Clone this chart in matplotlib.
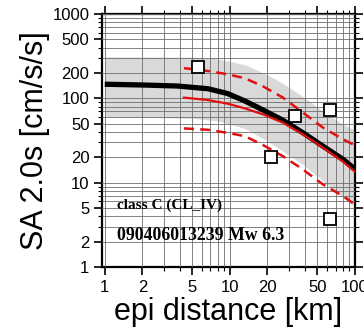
import numpy as np
import matplotlib
matplotlib.use("Agg")
import matplotlib.pyplot as plt
from matplotlib.ticker import LogLocator, FixedLocator, NullFormatter

plt.rcParams["font.family"] = ["Liberation Sans", "DejaVu Sans"]

# median prediction (black) and its scatter band [cm/s/s] vs distance [km]
dist_mean = [1, 2, 3.8, 6.7, 9.6, 13.2, 16.8, 26.6, 38.5, 55.8, 80.9, 100]
sa_mean = [147, 144, 140, 130, 114, 93, 78, 55, 39, 27, 18.8, 14.5]

dist_band = [1, 5, 8, 13.2, 20, 26.6, 38.5, 55.8, 80.9, 100]
band_upper = [310, 308, 295, 250, 190, 150, 105, 70, 49, 42]
band_lower = [61, 58, 54, 44, 31, 23.5, 16.4, 10.4, 6.6, 5.3]

# site-class prediction (red) with +/- sigma, from 4.3 km on
dist_site = [4.3, 6.7, 9.6, 13.2, 18.4, 26.6, 38.5, 55.8, 80.9, 100]
sa_site = [102, 95.5, 86.5, 76, 64.6, 51.4, 37.3, 25.9, 17.6, 13.5]
sa_site_up = [228, 211, 193, 173, 139, 102, 67.6, 44.8, 32.5, 27.8]
sa_site_lo = [44, 42.4, 39, 35.6, 28, 20.6, 14.3, 9.5, 6.9, 5.5]

# observed records
obs_dist = [5.6, 21.5, 33.4, 63.4, 63.4]
obs_sa = [234, 20.4, 61, 72, 3.7]

xticks = [1, 2, 5, 10, 20, 50, 100]
yticks = [1, 2, 5, 10, 20, 50, 100, 200, 500, 1000]

fig = plt.figure(figsize=(3.64, 3.33), dpi=100)
ax = fig.add_axes([0.280, 0.198, 0.695, 0.760])
ax.set_xscale("log")
ax.set_yscale("log")
ax.set_xlim(0.95, 100)
ax.set_ylim(1, 1000)

ax.fill_between(dist_band, band_lower, band_upper, color="#d9d9d9", lw=0, zorder=1)

ax.grid(True, which="both", color="#6e6e6e", lw=0.6, zorder=2)
ax.set_axisbelow(False)

red = "#e01010"
ax.plot(dist_mean, sa_mean, color="black", lw=3.8, solid_capstyle="butt", zorder=3)
ax.plot(dist_site, sa_site, color=red, lw=1.6, zorder=4)
ax.plot(dist_site, sa_site_up, color=red, lw=1.8, ls=(0, (4, 2.5)), zorder=4)
ax.plot(dist_site, sa_site_lo, color=red, lw=1.8, ls=(0, (4, 2.5)), zorder=4)
ax.plot(obs_dist, obs_sa, ls="none", marker="s", ms=8, mfc="white",
        mec="black", mew=1.3, zorder=5)

ax.xaxis.set_major_locator(FixedLocator(xticks))
ax.yaxis.set_major_locator(FixedLocator(yticks))
ax.set_xticklabels([str(v) for v in xticks])
ax.set_yticklabels([str(v) for v in yticks])
ax.xaxis.set_minor_locator(LogLocator(base=10, subs=np.arange(1, 10)))
ax.yaxis.set_minor_locator(LogLocator(base=10, subs=np.arange(1, 10)))
ax.xaxis.set_minor_formatter(NullFormatter())
ax.yaxis.set_minor_formatter(NullFormatter())
ax.tick_params(which="major", direction="out", length=6, width=1.2,
               labelsize=12, top=True, right=True, pad=3)
ax.tick_params(which="minor", direction="out", length=3, width=0.8,
               top=True, right=True)
for s in ax.spines.values():
    s.set_linewidth(1.6)

ax.set_xlabel("epi distance [km]", fontsize=22, labelpad=2)
ax.set_ylabel("SA 2.0s [cm/s/s]", fontsize=22, labelpad=2)

ax.text(1.25, 5.45, "class C (CL_IV)", family="Liberation Serif",
        fontweight="bold", fontsize=11, va="center", zorder=6)
ax.text(1.25, 2.34, "090406013239 Mw 6.3", family="Liberation Serif",
        fontweight="bold", fontsize=12.8, va="center", zorder=6)

fig.savefig("out.png", dpi=100)
